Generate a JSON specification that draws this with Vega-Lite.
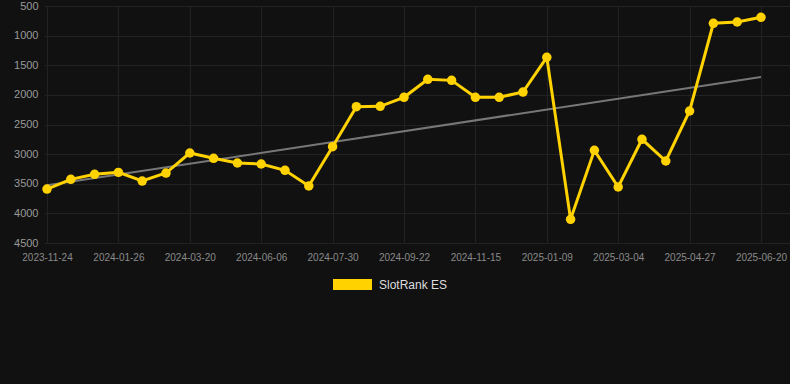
{
  "$schema": "https://vega.github.io/schema/vega-lite/v6.json",
  "width": 746,
  "height": 237,
  "autosize": {"type": "none"},
  "padding": {"left": 44, "top": 6, "right": 0, "bottom": 141},
  "background": "#111111",
  "config": {
    "view": {"stroke": null},
    "font": "Liberation Sans"
  },
  "datasets": {
    "rank": [
      {"idx": 0, "date": "2023-11-24", "rank": 3590, "series": "SlotRank ES"},
      {"idx": 1, "date": "2023-12-15", "rank": 3426, "series": "SlotRank ES"},
      {"idx": 2, "date": "2024-01-05", "rank": 3341, "series": "SlotRank ES"},
      {"idx": 3, "date": "2024-01-26", "rank": 3308, "series": "SlotRank ES"},
      {"idx": 4, "date": "2024-02-13", "rank": 3454, "series": "SlotRank ES"},
      {"idx": 5, "date": "2024-03-02", "rank": 3319, "series": "SlotRank ES"},
      {"idx": 6, "date": "2024-03-20", "rank": 2981, "series": "SlotRank ES"},
      {"idx": 7, "date": "2024-04-15", "rank": 3071, "series": "SlotRank ES"},
      {"idx": 8, "date": "2024-05-11", "rank": 3150, "series": "SlotRank ES"},
      {"idx": 9, "date": "2024-06-06", "rank": 3167, "series": "SlotRank ES"},
      {"idx": 10, "date": "2024-06-24", "rank": 3274, "series": "SlotRank ES"},
      {"idx": 11, "date": "2024-07-12", "rank": 3538, "series": "SlotRank ES"},
      {"idx": 12, "date": "2024-07-30", "rank": 2875, "series": "SlotRank ES"},
      {"idx": 13, "date": "2024-08-17", "rank": 2199, "series": "SlotRank ES"},
      {"idx": 14, "date": "2024-09-04", "rank": 2193, "series": "SlotRank ES"},
      {"idx": 15, "date": "2024-09-22", "rank": 2041, "series": "SlotRank ES"},
      {"idx": 16, "date": "2024-10-10", "rank": 1738, "series": "SlotRank ES"},
      {"idx": 17, "date": "2024-10-28", "rank": 1755, "series": "SlotRank ES"},
      {"idx": 18, "date": "2024-11-15", "rank": 2041, "series": "SlotRank ES"},
      {"idx": 19, "date": "2024-12-03", "rank": 2041, "series": "SlotRank ES"},
      {"idx": 20, "date": "2024-12-21", "rank": 1952, "series": "SlotRank ES"},
      {"idx": 21, "date": "2025-01-09", "rank": 1366, "series": "SlotRank ES"},
      {"idx": 22, "date": "2025-01-27", "rank": 4101, "series": "SlotRank ES"},
      {"idx": 23, "date": "2025-02-14", "rank": 2936, "series": "SlotRank ES"},
      {"idx": 24, "date": "2025-03-04", "rank": 3555, "series": "SlotRank ES"},
      {"idx": 25, "date": "2025-03-22", "rank": 2750, "series": "SlotRank ES"},
      {"idx": 26, "date": "2025-04-09", "rank": 3116, "series": "SlotRank ES"},
      {"idx": 27, "date": "2025-04-27", "rank": 2272, "series": "SlotRank ES"},
      {"idx": 28, "date": "2025-05-15", "rank": 792, "series": "SlotRank ES"},
      {"idx": 29, "date": "2025-06-02", "rank": 770, "series": "SlotRank ES"},
      {"idx": 30, "date": "2025-06-20", "rank": 691, "series": "SlotRank ES"}
    ],
    "trend": [
      {"idx": 0, "trend": 3527},
      {"idx": 30, "trend": 1699}
    ]
  },
  "encoding": {
    "x": {
      "field": "idx",
      "type": "quantitative",
      "scale": {"domain": [-0.126, 31.219], "nice": false, "zero": false},
      "axis": {
        "title": null,
        "values": [0, 3, 6, 9, 12, 15, 18, 21, 24, 27, 30],
        "labelExpr": "['2023-11-24','2024-01-26','2024-03-20','2024-06-06','2024-07-30','2024-09-22','2024-11-15','2025-01-09','2025-03-04','2025-04-27','2025-06-20'][round(datum.value/3)]",
        "labelColor": "#8a8a8a",
        "labelFontSize": 10,
        "labelPadding": 9,
        "labelFlush": false,
        "domain": false,
        "ticks": false,
        "grid": true,
        "gridColor": "#222222",
        "gridWidth": 1
      }
    },
    "y": {
      "type": "quantitative",
      "scale": {"domain": [500, 4500], "reverse": true, "nice": false, "zero": false},
      "axis": {
        "title": null,
        "values": [500, 1000, 1500, 2000, 2500, 3000, 3500, 4000, 4500],
        "format": "d",
        "labelColor": "#999999",
        "labelFontSize": 11,
        "labelPadding": 6,
        "domain": false,
        "ticks": false,
        "grid": true,
        "gridColor": "#222222",
        "gridWidth": 1
      }
    }
  },
  "layer": [
    {
      "data": {"name": "trend"},
      "mark": {"type": "line", "color": "#777777", "strokeWidth": 2},
      "encoding": {"y": {"field": "trend", "type": "quantitative"}}
    },
    {
      "data": {"name": "rank"},
      "mark": {"type": "line", "strokeWidth": 3},
      "encoding": {
        "y": {"field": "rank", "type": "quantitative"},
        "color": {
          "field": "series",
          "type": "nominal",
          "scale": {"range": ["#FFD200"]},
          "legend": null
        }
      }
    },
    {
      "data": {"name": "rank"},
      "mark": {"type": "point", "filled": true, "size": 90, "opacity": 1, "strokeWidth": 0},
      "encoding": {
        "y": {"field": "rank", "type": "quantitative"},
        "fill": {
          "field": "series",
          "type": "nominal",
          "scale": {"range": ["#FFD200"]},
          "legend": {
            "title": null,
            "orient": "none",
            "legendX": 289,
            "legendY": 259,
            "symbolType": "M-1,-0.28L1,-0.28L1,0.28L-1,0.28Z",
            "symbolSize": 1521,
            "symbolStrokeWidth": 0,
            "symbolOpacity": 1,
            "labelColor": "#dddddd",
            "labelFontSize": 12,
            "labelOffset": 7
          }
        }
      }
    }
  ]
}
